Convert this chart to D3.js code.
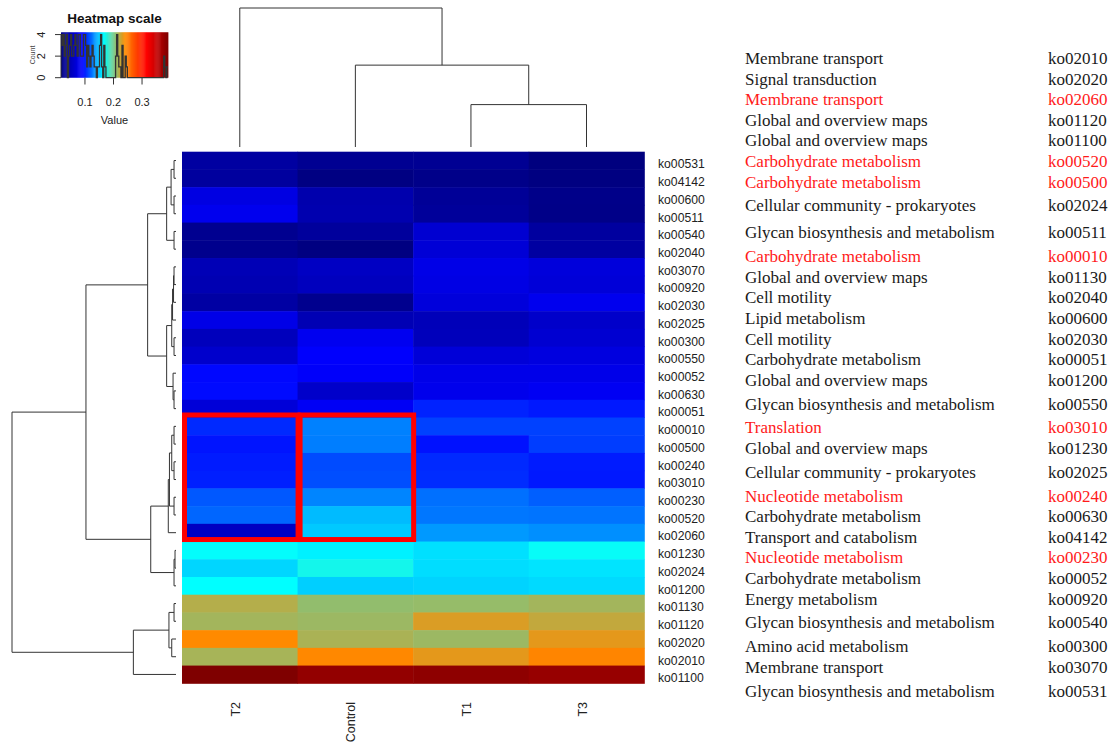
<!DOCTYPE html>
<html lang="en">
<head>
<meta charset="UTF-8">
<title>KEGG pathway heatmap</title>
<script src="https://cdnjs.cloudflare.com/ajax/libs/d3/7.8.5/d3.min.js"></script>
<style>
  body { margin: 0; background: #fff; }
  svg { display: block; }
</style>
</head>
<body>
<svg id="chart" width="1117" height="742"></svg>
<script>
// samples (heatmap columns, dendrogram order)
const samples = ["T2", "Control", "T1", "T3"];

// pathways (heatmap rows, top to bottom)
const pathways = ["ko00531","ko04142","ko00600","ko00511","ko00540","ko02040","ko03070","ko00920",
  "ko02030","ko02025","ko00300","ko00550","ko00052","ko00630","ko00051","ko00010","ko00500",
  "ko00240","ko03010","ko00230","ko00520","ko02060","ko01230","ko02024","ko01200","ko01130",
  "ko01120","ko02020","ko02010","ko01100"];

// relative abundance per sample, same order as pathways
const valT2 = [0.036,0.034,0.074,0.081,0.026,0.024,0.048,0.046,0.037,0.077,0.052,0.061,0.093,0.094,0.068,
  0.103,0.097,0.099,0.100,0.117,0.121,0.055,0.167,0.154,0.166,0.219,0.214,0.242,0.215,0.391];
const valControl = [0.027,0.018,0.043,0.044,0.033,0.017,0.056,0.053,0.025,0.047,0.082,0.090,0.088,0.060,0.085,
  0.129,0.128,0.113,0.114,0.130,0.146,0.150,0.162,0.172,0.152,0.209,0.212,0.216,0.243,0.379];
const valT1 = [0.028,0.022,0.030,0.032,0.064,0.067,0.077,0.075,0.070,0.050,0.051,0.068,0.078,0.080,0.101,
  0.110,0.096,0.103,0.104,0.124,0.126,0.136,0.157,0.156,0.153,0.210,0.230,0.212,0.233,0.382];
const valT3 = [0.016,0.017,0.022,0.021,0.035,0.036,0.070,0.068,0.081,0.060,0.064,0.072,0.078,0.084,0.098,
  0.110,0.109,0.099,0.098,0.119,0.125,0.133,0.168,0.158,0.155,0.214,0.223,0.233,0.245,0.377];

// dendrograms: [merge height, left, right], root height = 1
const colTree = [1, "T2", [0.589, "Control", [0.305, "T1", "T3"]]];
const rowTree = [1.0,
  [0.549,
    [0.173,
      [0.057,
        [0.030, [0.012, "ko00531", "ko04142"], [0.012, "ko00600", "ko00511"]],
        [0.012, "ko00540", "ko02040"]],
      [0.057,
        [0.026, [0.021, [0.015, [0.012, "ko03070", "ko00920"], "ko02030"], "ko02025"], [0.012, "ko00300", "ko00550"]],
        [0.018, "ko00052", [0.012, "ko00630", "ko00051"]]]],
    [0.154,
      [0.047,
        [0.040, [0.026, [0.012, "ko00010", "ko00500"], [0.012, "ko00240", "ko03010"]], [0.012, "ko00230", "ko00520"]],
        "ko02060"],
      [0.012, [0.006, "ko01230", "ko02024"], "ko01200"]]],
  [0.260, [0.043, [0.012, "ko01130", "ko01120"], [0.026, "ko02020", "ko02010"]], "ko01100"]];

// highlighted block
const boxCols = ["T2", "Control"];
const boxRows = ["ko00010","ko00500","ko00240","ko03010","ko00230","ko00520","ko02060"];

// annotation table
const tableNames = ["Membrane transport","Signal transduction","Membrane transport","Global and overview maps",
  "Global and overview maps","Carbohydrate metabolism","Carbohydrate metabolism","Cellular community - prokaryotes",
  "Glycan biosynthesis and metabolism","Carbohydrate metabolism","Global and overview maps","Cell motility",
  "Lipid metabolism","Cell motility","Carbohydrate metabolism","Global and overview maps",
  "Glycan biosynthesis and metabolism","Translation","Global and overview maps","Cellular community - prokaryotes",
  "Nucleotide metabolism","Carbohydrate metabolism","Transport and catabolism","Nucleotide metabolism",
  "Carbohydrate metabolism","Energy metabolism","Glycan biosynthesis and metabolism","Amino acid metabolism",
  "Membrane transport","Glycan biosynthesis and metabolism"];
const tableCodes = ["ko02010","ko02020","ko02060","ko01120","ko01100","ko00520","ko00500","ko02024",
  "ko00511","ko00010","ko01130","ko02040","ko00600","ko02030","ko00051","ko01200","ko00550","ko03010",
  "ko01230","ko02025","ko00240","ko00630","ko04142","ko00230","ko00052","ko00920","ko00540","ko00300",
  "ko03070","ko00531"];

const keyTicks = [0.1, 0.2, 0.3];
const palette = ["#00007F", "#0000FF", "#00FFFF", "#FF8C00", "#FF0000", "#7F0000"];

const values = { T2: valT2, Control: valControl, T1: valT1, T3: valT3 };
const cells = [];
samples.forEach(s => pathways.forEach((p, i) => cells.push({ s, p, v: values[s][i] })));
const allVals = cells.map(d => d.v);
const [lo, hi] = d3.extent(allVals);

const svg = d3.select("#chart");
svg.append("rect").attr("width", 1117).attr("height", 742).attr("fill", "#fff");

const x = d3.scaleBand().domain(samples).range([182, 644.3]);
const y = d3.scaleBand().domain(pathways).range([151.7, 683.3]);
const color = d3.scaleLinear()
  .domain(palette.map((c, i) => lo + i * (hi - lo) / (palette.length - 1)))
  .range(palette);

// heatmap cells
svg.append("g").selectAll("rect")
  .data(cells)
  .join("rect")
  .attr("x", d => x(d.s))
  .attr("y", d => y(d.p))
  .attr("width", x.bandwidth() + 0.5)
  .attr("height", y.bandwidth() + 0.5)
  .attr("fill", d => color(d.v));

// highlight boxes
const r0 = y(boxRows[0]), r1 = y(boxRows[boxRows.length - 1]) + y.bandwidth();
svg.append("g").selectAll("rect")
  .data(boxCols)
  .join("rect")
  .attr("x", c => x(c) + 2.5)
  .attr("y", r0 - 2.5)
  .attr("width", x.bandwidth() - 2)
  .attr("height", (r1 - 2) - (r0 - 2.5))
  .attr("fill", "none")
  .attr("stroke", "#ff0000")
  .attr("stroke-width", 5);

// row labels
svg.append("g").selectAll("text")
  .data(pathways)
  .join("text")
  .attr("x", 658)
  .attr("y", p => y(p) + y.bandwidth() / 2 + 7.8)
  .attr("font-family", "Liberation Sans, Arial, sans-serif")
  .attr("font-size", 12.2)
  .attr("fill", "#222")
  .text(p => p);

// column labels
svg.append("g").selectAll("text")
  .data(samples)
  .join("text")
  .attr("transform", s => `translate(${x(s) + x.bandwidth() / 2},702) rotate(-90)`)
  .attr("text-anchor", "end")
  .attr("font-family", "Liberation Sans, Arial, sans-serif")
  .attr("font-size", 12.5)
  .attr("fill", "#222")
  .text(s => s);

// dendrograms
function drawTree(node, leafPos, elbow, g) {
  if (typeof node === "string") return { p: leafPos(node), h: 0 };
  const [h, a, b] = node;
  const ca = drawTree(a, leafPos, elbow, g);
  const cb = drawTree(b, leafPos, elbow, g);
  g.append("path").attr("d", elbow(ca, cb, h));
  return { p: (ca.p + cb.p) / 2, h };
}

const rowH = d3.scaleLinear().domain([0, 1]).range([176, 12]);
const gRow = svg.append("g").attr("fill", "none").attr("stroke", "#333").attr("stroke-width", 1);
drawTree(rowTree, p => y(p) + y.bandwidth() / 2,
  (a, b, h) => `M${rowH(a.h)},${a.p}H${rowH(h)}V${b.p}H${rowH(b.h)}`, gRow);

const colH = d3.scaleLinear().domain([0, 1]).range([147, 8]);
const gCol = svg.append("g").attr("fill", "none").attr("stroke", "#333").attr("stroke-width", 1);
drawTree(colTree, s => x(s) + x.bandwidth() / 2,
  (a, b, h) => `M${a.p},${colH(a.h)}V${colH(h)}H${b.p}V${colH(b.h)}`, gCol);

// colour key with histogram
const keyX = d3.scaleLinear().domain([lo, hi]).range([61, 168]);
const nBins = 100;
const step = (hi - lo) / nBins;
const key = svg.append("g");
key.append("g").selectAll("rect")
  .data(d3.range(nBins))
  .join("rect")
  .attr("x", i => keyX(lo + i * step))
  .attr("y", 32.3)
  .attr("width", keyX(lo + step) - keyX(lo) + 0.4)
  .attr("height", 45.4)
  .attr("fill", i => color(lo + (i + 0.5) * step));

const bins = d3.bin().domain([lo, hi + 1e-9]).thresholds(d3.range(nBins).map(i => lo + i * step))(allVals);
const maxCount = d3.max(bins, b => b.length);
const keyY = d3.scaleLinear().domain([0, maxCount / 0.95]).range([77.7, 32.3]);
const histLine = d3.line().curve(d3.curveStepAfter).x(d => keyX(d[0])).y(d => keyY(d[1]));
const histPts = bins.map(b => [b.x0, b.length]);
histPts.push([hi, bins[bins.length - 1].length]);
key.append("path")
  .attr("d", histLine(histPts))
  .attr("fill", "none")
  .attr("stroke", "#333")
  .attr("stroke-width", 1.3);

const yTicks = d3.range(0, maxCount + 1, 2);
key.append("line").attr("x1", 61).attr("x2", 61)
  .attr("y1", keyY(0)).attr("y2", keyY(yTicks[yTicks.length - 1])).attr("stroke", "#333");
key.append("g").selectAll("line").data(yTicks).join("line")
  .attr("x1", 55).attr("x2", 61).attr("y1", d => keyY(d)).attr("y2", d => keyY(d)).attr("stroke", "#333");
key.append("g").selectAll("text").data(yTicks).join("text")
  .attr("transform", d => `translate(45,${keyY(d)}) rotate(-90)`)
  .attr("text-anchor", "middle")
  .attr("font-family", "Liberation Sans, Arial, sans-serif")
  .attr("font-size", 11).attr("fill", "#222")
  .text(d => d);
key.append("text")
  .attr("transform", "translate(34.5,55) rotate(-90)")
  .attr("text-anchor", "middle")
  .attr("font-family", "Liberation Sans, Arial, sans-serif")
  .attr("font-size", 7).attr("fill", "#444")
  .text("Count");

key.append("g").selectAll("line").data(keyTicks).join("line")
  .attr("x1", d => keyX(d)).attr("x2", d => keyX(d)).attr("y1", 77.7).attr("y2", 84.5).attr("stroke", "#333");
key.append("g").selectAll("text").data(keyTicks).join("text")
  .attr("x", d => keyX(d)).attr("y", 105.5)
  .attr("text-anchor", "middle")
  .attr("font-family", "Liberation Sans, Arial, sans-serif")
  .attr("font-size", 11).attr("fill", "#222")
  .text(d => d3.format(".1f")(d));
key.append("text")
  .attr("x", 114.5).attr("y", 124)
  .attr("text-anchor", "middle")
  .attr("font-family", "Liberation Sans, Arial, sans-serif")
  .attr("font-size", 11).attr("fill", "#222")
  .text("Value");
key.append("text")
  .attr("x", 114.5).attr("y", 23)
  .attr("text-anchor", "middle")
  .attr("font-family", "Liberation Sans, Arial, sans-serif")
  .attr("font-size", 13.5).attr("font-weight", "bold").attr("fill", "#111")
  .text("Heatmap scale");

// annotation table: rows with long category names sit on taller lines
const tall = n => n.startsWith("Cellular") || n.startsWith("Glycan");
const rowTop = [];
let acc = 48.7;
tableNames.forEach(n => { const hgt = tall(n) ? 27 : 20.6; rowTop.push(acc + hgt / 2); acc += hgt; });
const boxSet = new Set(boxRows);
const table = svg.append("g")
  .attr("font-family", "Liberation Serif, Times New Roman, serif")
  .attr("font-size", 17);
table.selectAll("text.name")
  .data(tableNames)
  .join("text")
  .attr("class", "name")
  .attr("x", 745)
  .attr("y", (n, i) => rowTop[i] + 5)
  .attr("fill", (n, i) => boxSet.has(tableCodes[i]) ? "#ff1a1a" : "#1a1a1a")
  .text(n => n);
table.selectAll("text.code")
  .data(tableCodes)
  .join("text")
  .attr("class", "code")
  .attr("x", 1048)
  .attr("y", (c, i) => rowTop[i] + 5)
  .attr("fill", c => boxSet.has(c) ? "#ff1a1a" : "#1a1a1a")
  .text(c => c);
</script>
</body>
</html>
